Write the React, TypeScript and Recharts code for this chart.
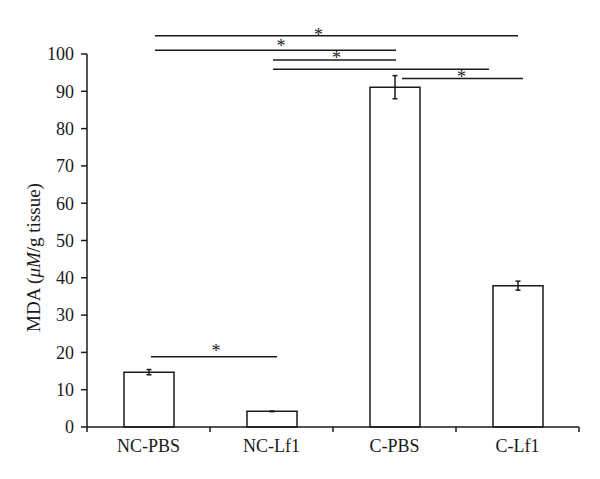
import { Bar, BarChart, ErrorBar, Label, ReferenceDot, ReferenceLine, XAxis, YAxis } from "recharts";

const groups = ["NC-PBS", "NC-Lf1", "C-PBS", "C-Lf1"];
const mdaValues = [14.7, 4.2, 91.1, 37.9];
const mdaErrors = [0.7, 0.1, 3.1, 1.2];
const yTicks = [0, 10, 20, 30, 40, 50, 60, 70, 80, 90, 100];
// group boundaries get a tick mark, group centres get the name
const xTicks = [0, 0.5, 1, 1.5, 2, 2.5, 3, 3.5, 4];

// significance brackets, x in group units (0..4), y in MDA units
const brackets = [
  { x1: 0.553, x2: 3.504, y: 104.9 },
  { x1: 0.553, x2: 2.512, y: 101.0 },
  { x1: 1.512, x2: 2.512, y: 98.4 },
  { x1: 1.512, x2: 3.268, y: 95.9 },
  { x1: 2.561, x2: 3.545, y: 93.4 },
  { x1: 0.52, x2: 1.545, y: 18.85 },
];
const stars = [
  { x: 1.882, y: 106.0 },
  { x: 1.577, y: 103.0 },
  { x: 2.028, y: 99.7 },
  { x: 3.045, y: 94.6 },
  { x: 1.049, y: 21.2 },
];

const data = groups.map((name, i) => ({ name, pos: i + 0.5, mda: mdaValues[i], err: mdaErrors[i] }));

const font = "'Liberation Serif', 'Times New Roman', serif";
const ink = "#1a1a1a";

function XTick({ x, y, payload }: any) {
  const v = payload.value;
  if (Number.isInteger(v)) {
    return <line x1={x} y1={y} x2={x} y2={y + 5} stroke={ink} strokeWidth={1.5} />;
  }
  return (
    <text x={x} y={y + 12} dy="0.71em" textAnchor="middle" fontFamily={font} fontSize={18} fill={ink}>
      {groups[Math.floor(v)]}
    </text>
  );
}

function YLabel({ viewBox }: any) {
  const cx = viewBox.x + 6;
  const cy = viewBox.y + viewBox.height / 2 + 17;
  return (
    <text
      x={cx}
      y={cy}
      transform={`rotate(-90, ${cx}, ${cy})`}
      textAnchor="middle"
      dominantBaseline="central"
      fontFamily={font}
      fontSize={19}
      fill={ink}
    >
      MDA (<tspan fontStyle="italic">μM</tspan>/g tissue)
    </text>
  );
}

export default function App() {
  return (
    <div style={{ position: "absolute", left: 0, top: 0, background: "#fff" }}>
      <BarChart
        width={600}
        height={479}
        data={data}
        margin={{ top: 54, right: 21, left: 27, bottom: 22 }}
      >
        <XAxis dataKey="name" hide height={0} />
        <XAxis
          xAxisId="pos"
          dataKey="pos"
          type="number"
          domain={[0, 4]}
          allowDataOverflow
          ticks={xTicks}
          interval={0}
          tickSize={0}
          tickMargin={0}
          tickLine={false}
          height={30}
          axisLine={{ stroke: ink, strokeWidth: 1.5 }}
          tick={<XTick />}
        />
        <YAxis
          domain={[0, 100]}
          ticks={yTicks}
          width={60}
          tickSize={6}
          tickMargin={7}
          axisLine={{ stroke: ink, strokeWidth: 1.5 }}
          tickLine={{ stroke: ink, strokeWidth: 1.5 }}
          tick={{ fontFamily: font, fontSize: 18, fill: ink }}
        >
          <Label content={<YLabel />} />
        </YAxis>
        <Bar
          dataKey="mda"
          barSize={50}
          fill="#fff"
          stroke={ink}
          strokeWidth={1.5}
          isAnimationActive={false}
        >
          <ErrorBar dataKey="err" width={2.5} stroke={ink} strokeWidth={1.5} />
        </Bar>
        {brackets.map((b, i) => (
          <ReferenceLine
            key={`b${i}`}
            xAxisId="pos"
            ifOverflow="visible"
            segment={[
              { x: b.x1, y: b.y },
              { x: b.x2, y: b.y },
            ]}
            stroke={ink}
            strokeWidth={1.5}
          />
        ))}
        {stars.map((s, i) => (
          <ReferenceDot
            key={`s${i}`}
            xAxisId="pos"
            x={s.x}
            y={s.y}
            ifOverflow="visible"
            shape={(p: any) => (
              <text
                x={p.cx}
                y={p.cy + 9}
                textAnchor="middle"
                fontFamily={font}
                fontSize={18}
                fill={ink}
              >
                *
              </text>
            )}
          />
        ))}
      </BarChart>
    </div>
  );
}
